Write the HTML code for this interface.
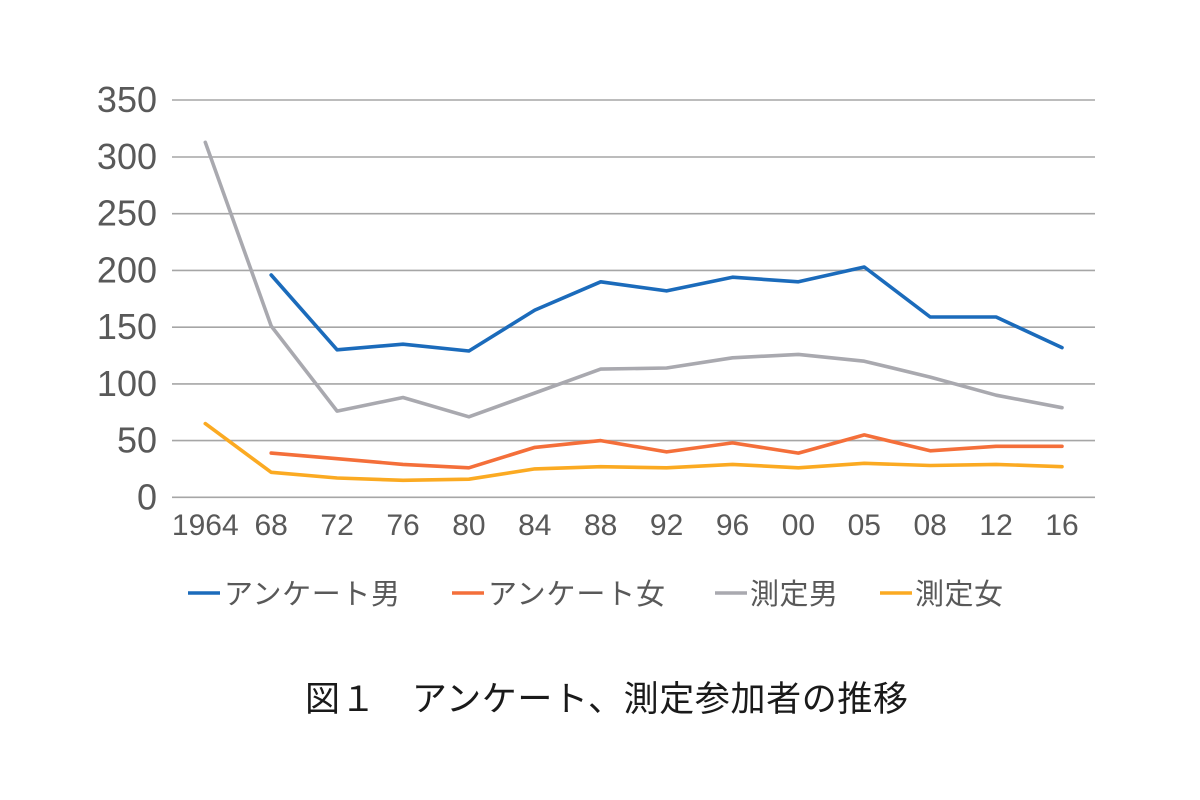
<!DOCTYPE html>
<html><head><meta charset="utf-8"><style>
html,body{margin:0;padding:0;background:#fff;}
svg{display:block;}
</style></head><body>
<svg width="1200" height="800" viewBox="0 0 1200 800" xmlns="http://www.w3.org/2000/svg">
<rect width="1200" height="800" fill="#fff"/>
<g stroke="#a6a6a6" stroke-width="1.6">
<line x1="172" y1="100" x2="1095" y2="100"/>
<line x1="172" y1="157" x2="1095" y2="157"/>
<line x1="172" y1="213.7" x2="1095" y2="213.7"/>
<line x1="172" y1="270.4" x2="1095" y2="270.4"/>
<line x1="172" y1="327.2" x2="1095" y2="327.2"/>
<line x1="172" y1="383.9" x2="1095" y2="383.9"/>
<line x1="172" y1="440.6" x2="1095" y2="440.6"/>
<line x1="172" y1="497.3" x2="1095" y2="497.3"/>
</g>
<g font-family="'Liberation Sans', sans-serif" font-size="36" fill="#595959" text-anchor="end">
<text x="157" y="112">350</text>
<text x="157" y="169">300</text>
<text x="157" y="225.7">250</text>
<text x="157" y="282.4">200</text>
<text x="157" y="339.2">150</text>
<text x="157" y="395.9">100</text>
<text x="157" y="452.6">50</text>
<text x="157" y="509.3">0</text>
</g>
<g font-family="'Liberation Sans', sans-serif" font-size="30" fill="#595959" text-anchor="middle">
<text x="205.3" y="535">1964</text>
<text x="271.2" y="535">68</text>
<text x="337.1" y="535">72</text>
<text x="403" y="535">76</text>
<text x="468.9" y="535">80</text>
<text x="534.8" y="535">84</text>
<text x="600.7" y="535">88</text>
<text x="666.6" y="535">92</text>
<text x="732.5" y="535">96</text>
<text x="798.4" y="535">00</text>
<text x="864.3" y="535">05</text>
<text x="930.2" y="535">08</text>
<text x="996.1" y="535">12</text>
<text x="1062" y="535">16</text>
</g>
<g fill="none" stroke-width="3.6" stroke-linejoin="round" stroke-linecap="round">
<polyline stroke="#a9a9af" points="205.3,142.3 271.2,326 337.1,411.1 403,397.5 468.9,416.8 534.8,393 600.7,369.1 666.6,368 732.5,357.8 798.4,354.4 864.3,361.2 930.2,377.1 996.1,395.2 1062,407.7"/>
<polyline stroke="#fbaa22" points="205.3,423.6 271.2,472.3 337.1,478 403,480.3 468.9,479.2 534.8,468.9 600.7,466.7 666.6,467.8 732.5,464.4 798.4,467.8 864.3,463.3 930.2,465.5 996.1,464.4 1062,466.7"/>
<polyline stroke="#f46f3a" points="271.2,453.1 337.1,458.7 403,464.4 468.9,467.8 534.8,447.4 600.7,440.6 666.6,451.9 732.5,442.9 798.4,453.1 864.3,434.9 930.2,450.8 996.1,446.3 1062,446.3"/>
<polyline stroke="#1b6bbb" points="271.2,275 337.1,349.8 403,344.2 468.9,351 534.8,310.1 600.7,281.8 666.6,290.9 732.5,277.2 798.4,281.8 864.3,267 930.2,317 996.1,317 1062,347.6"/>
</g>
<g stroke-width="3.6">
<line x1="188" y1="593" x2="220" y2="593" stroke="#1b6bbb"/>
<line x1="452" y1="593" x2="484" y2="593" stroke="#f46f3a"/>
<line x1="715" y1="593" x2="747" y2="593" stroke="#a9a9af"/>
<line x1="880" y1="593" x2="912" y2="593" stroke="#fbaa22"/>
</g>
<g font-family="'Liberation Sans', 'Noto Sans CJK JP', sans-serif" font-size="29" fill="#595959">
<text x="224" y="604" textLength="176">アンケート男</text>
<text x="488" y="604" textLength="177">アンケート女</text>
<text x="750" y="604" textLength="88">測定男</text>
<text x="915" y="604" textLength="88">測定女</text>
</g>
<text x="305" y="711" font-family="'Liberation Sans', 'Noto Sans CJK JP', sans-serif" font-size="35" fill="#1a1a1a" textLength="603">図１　アンケート、測定参加者の推移</text>
</svg>
</body></html>
